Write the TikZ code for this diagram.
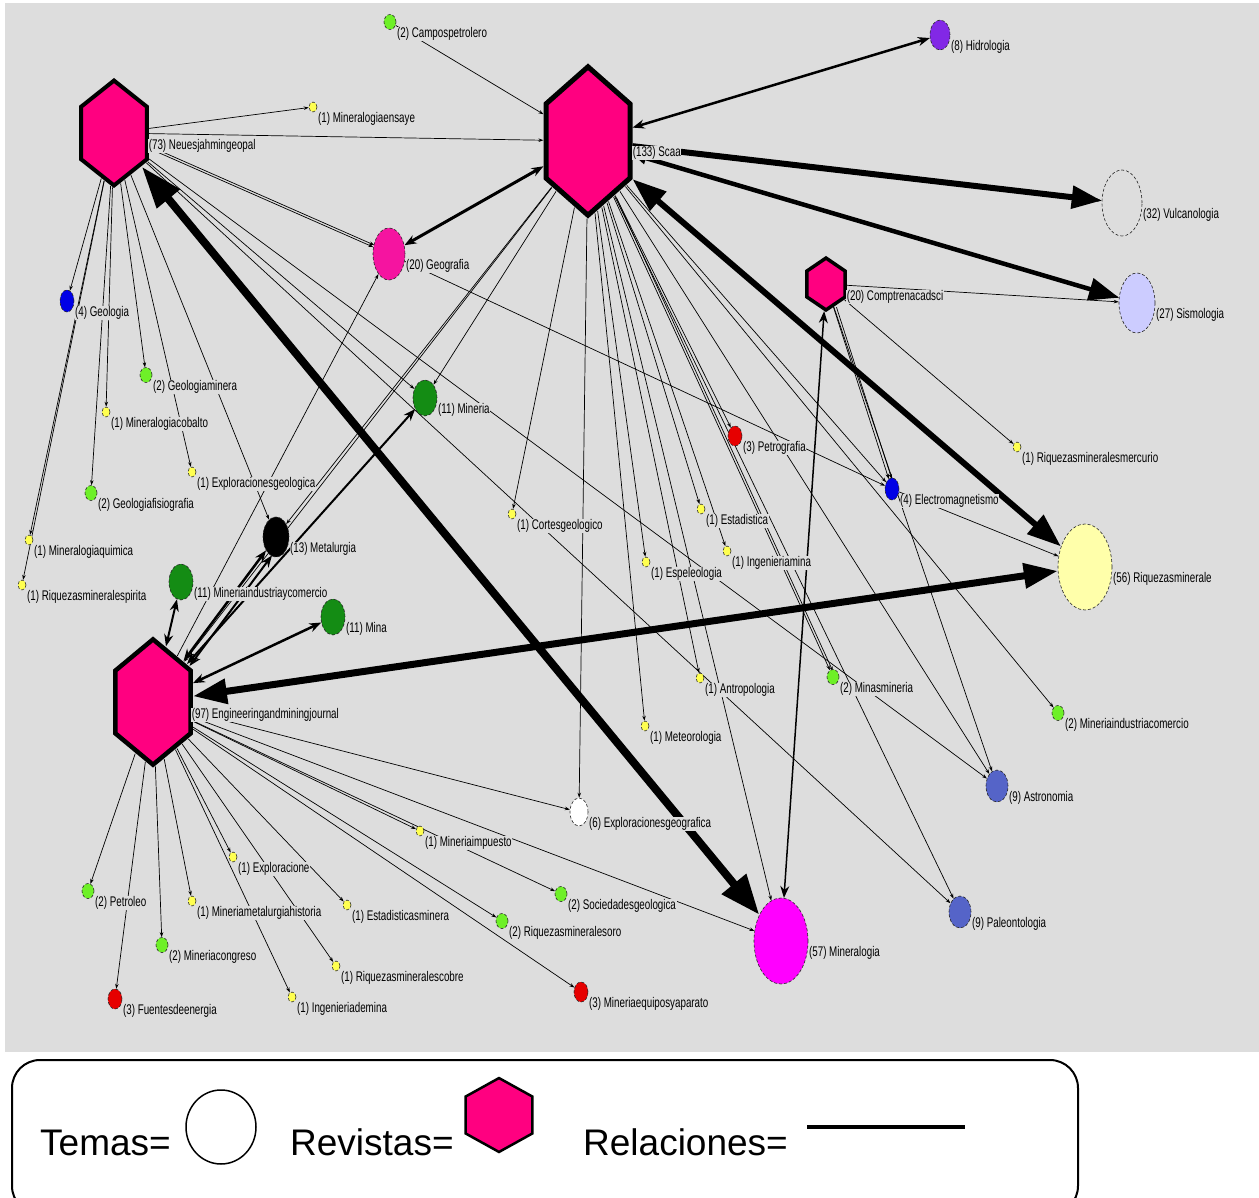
\documentclass[tikz,border=0pt]{standalone}
\usepackage{fontspec}
\setmainfont{Liberation Sans}
\newfontfamily\labfont[FakeStretch=0.7]{Liberation Sans}
\usetikzlibrary{shapes.geometric,arrows.meta,backgrounds}
\definecolor{fondo}{RGB}{221,221,221}
\definecolor{rosa}{RGB}{255,0,128}
\definecolor{rosageo}{RGB}{245,20,160}
\definecolor{amarillo}{RGB}{255,255,80}
\definecolor{verdecl}{RGB}{110,240,40}
\definecolor{verdeos}{RGB}{20,140,20}
\definecolor{azul}{RGB}{0,0,230}
\definecolor{morado}{RGB}{130,40,230}
\definecolor{lavanda}{RGB}{204,204,255}
\definecolor{crema}{RGB}{255,255,170}
\definecolor{fucsia}{RGB}{255,0,255}
\definecolor{acero}{RGB}{85,100,200}
\definecolor{rojo}{RGB}{230,0,0}
\begin{document}
\begin{tikzpicture}[x=1pt,y=-1pt,
	lab/.style={font=\labfont\fontsize{14}{14}\selectfont,fill=fondo,inner sep=0.6pt},
	every label/.style={lab,yshift=-12pt},
	tema/.style={ellipse,draw=black!85,densely dashed,line width=0.6pt,inner sep=0pt},
	t1/.style={tema,fill=amarillo,minimum width=8pt,minimum height=10pt},
	t2/.style={tema,fill=verdecl,minimum width=12pt,minimum height=15pt},
	t3/.style={tema,fill=rojo,minimum width=14pt,minimum height=20pt},
	t4/.style={tema,fill=azul,minimum width=14pt,minimum height=22pt},
	t9/.style={tema,fill=acero,minimum width=22pt,minimum height=32pt},
	t11/.style={tema,fill=verdeos,minimum width=24pt,minimum height=36pt},
	revista/.style={regular polygon,regular polygon sides=6,shape border rotate=30,draw=black,fill=rosa,inner sep=0pt,transform shape},
	relacion/.style={line width=0.7pt,-{Stealth[length=5pt,width=3.5pt]}},
	relmedia/.style={{Stealth[length=12pt,width=9pt]}-{Stealth[length=12pt,width=9pt]}},
	relfuerte/.style={{Triangle[length=34pt,width=24pt]}-{Triangle[length=34pt,width=24pt]}}]
		\useasboundingbox (0,0) rectangle (1259,1198);

		% Revistas
		\begin{scope}[shift={(114,133)},yscale=1.38]
			\node[revista,minimum size=76pt,line width=4pt] (neues) at (0,0) {};
		\end{scope}
		\begin{scope}[shift={(588,141)},yscale=1.53]
			\node[revista,minimum size=97pt,line width=5pt] (scaa) at (0,0) {};
		\end{scope}
		\begin{scope}[shift={(153,702)},yscale=1.44]
			\node[revista,minimum size=87pt,line width=4.5pt] (eng) at (0,0) {};
		\end{scope}
		\begin{scope}[shift={(826,284)},yscale=1.18]
			\node[revista,minimum size=44pt,line width=3.5pt] (comp) at (0,0) {};
		\end{scope}
		\node[lab,anchor=west] (neuesLab) at (148,146) {(73) Neuesjahmingeopal};
		\node[lab,anchor=west] (scaaLab) at (632,153) {(133) Scaa};
		\node[lab,anchor=west] (engLab) at (191,715) {(97) Engineeringandminingjournal};
		\node[lab,anchor=west] (compLab) at (846,297) {(20) Comptrenacadsci};

		% Temas
		\node[t2,label={east:(2) Campospetrolero}] (camp) at (390,22) {};
		\node[t1,label={east:(1) Mineralogiaensaye}] (minens) at (313,107) {};
		\node[tema,fill=morado,minimum width=20pt,minimum height=30pt,label={east:(8) Hidrologia}] (hidro) at (940,35) {};
		\node[tema,fill=fondo,minimum width=40pt,minimum height=66pt,label={east:(32) Vulcanologia}] (vulc) at (1122,203) {};
		\node[tema,fill=lavanda,minimum width=36pt,minimum height=60pt,label={east:(27) Sismologia}] (sismo) at (1137,303) {};
		\node[tema,fill=rosageo,minimum width=32pt,minimum height=52pt,label={east:(20) Geografia}] (geog) at (389,254) {};
		\node[t4,label={east:(4) Geologia}] (geol) at (67,301) {};
		\node[t2,label={east:(2) Geologiaminera}] (geomin) at (146,375) {};
		\node[t1,label={east:(1) Mineralogiacobalto}] (mincob) at (106,412) {};
		\node[t1,label={east:(1) Exploracionesgeologica}] (expgeol) at (192,472) {};
		\node[t2,label={east:(2) Geologiafisiografia}] (geofis) at (91,493) {};
		\node[t1,label={east:(1) Mineralogiaquimica}] (minquim) at (29,540) {};
		\node[t1,label={east:(1) Riquezasmineralespirita}] (riqesp) at (22,585) {};
		\node[t11,label={east:(11) Mineria}] (mineria) at (425,398) {};
		\node[tema,fill=black,minimum width=26pt,minimum height=40pt,label={east:(13) Metalurgia}] (metal) at (276,537) {};
		\node[t11,label={east:(11) Mineriaindustriaycomercio}] (minind) at (181,582) {};
		\node[t11,label={east:(11) Mina}] (mina) at (333,617) {};
		\node[t1,label={east:(1) Cortesgeologico}] (cortes) at (512,514) {};
		\node[t3,label={east:(3) Petrografia}] (petro) at (735,436) {};
		\node[t1,label={east:(1) Estadistica}] (estad) at (701,509) {};
		\node[t1,label={east:(1) Ingenieriamina}] (ingmina) at (727,551) {};
		\node[t1,label={east:(1) Espeleologia}] (espel) at (646,562) {};
		\node[t4,label={east:(4) Electromagnetismo}] (electro) at (892,489) {};
		\node[t1,label={east:(1) Riquezasmineralesmercurio}] (riqmerc) at (1017,447) {};
		\node[tema,fill=crema,minimum width=54pt,minimum height=86pt,label={east:(56) Riquezasminerale}] (riq) at (1085,567) {};
		\node[t1,label={east:(1) Antropologia}] (antro) at (700,678) {};
		\node[t1,label={east:(1) Meteorologia}] (meteo) at (645,726) {};
		\node[t2,label={east:(2) Minasmineria}] (minas) at (833,677) {};
		\node[t2,label={east:(2) Mineriaindustriacomercio}] (minindc) at (1058,713) {};
		\node[t9,label={east:(9) Astronomia}] (astro) at (997,786) {};
		\node[t9,label={east:(9) Paleontologia}] (paleo) at (960,912) {};
		\node[tema,fill=white,minimum width=18pt,minimum height=28pt,label={east:(6) Exploracionesgeografica}] (expgeog) at (579,812) {};
		\node[t1,label={east:(1) Mineriaimpuesto}] (minimp) at (420,831) {};
		\node[t2,label={east:(2) Sociedadesgeologica}] (socied) at (561,894) {};
		\node[t2,label={east:(2) Riquezasmineralesoro}] (riqoro) at (502,921) {};
		\node[t3,label={east:(3) Mineriaequiposyaparato}] (mineq) at (581,992) {};
		\node[tema,fill=fucsia,minimum width=54pt,minimum height=86pt,label={east:(57) Mineralogia}] (minlog) at (781,941) {};
		\node[t2,label={east:(2) Petroleo}] (petrol) at (88,891) {};
		\node[t3,label={east:(3) Fuentesdeenergia}] (fuentes) at (115,999) {};
		\node[t2,label={east:(2) Mineriacongreso}] (mincong) at (162,945) {};
		\node[t1,label={east:(1) Mineriametalurgiahistoria}] (minmet) at (192,901) {};
		\node[t1,label={east:(1) Exploracione}] (explo) at (233,857) {};
		\node[t1,label={east:(1) Estadisticasminera}] (estmin) at (347,905) {};
		\node[t1,label={east:(1) Riquezasmineralescobre}] (riqcob) at (336,966) {};
		\node[t1,label={east:(1) Ingenieriademina}] (ingdem) at (292,997) {};

		% Relaciones
		\begin{pgfonlayer}{background}
			\fill[white] (0,0) rectangle (1259,1198);
			\fill[fondo] (5,3) rectangle (1259,1052);
			\foreach \t in {minens,scaa,geol,geomin,mincob,geofis,expgeol,minquim,riqesp,metal,mineria,astro,paleo}
				\draw[relacion] (neues) -- (\t);
			\draw[relacion] (neues) -- (geog);
			\draw[relacion,transform canvas={shift={(1pt,2pt)}}] (neues) -- (geog);
			\foreach \t in {cortes,expgeog,espel,meteo,antro,estad,ingmina,petro,minas,minlog,astro,paleo,minindc,electro,metal,eng,mineria,vulc,sismo}
				\draw[relacion] (scaa) -- (\t);
			\draw[relacion,transform canvas={shift={(3pt,-1pt)}}] (scaa) -- (minas);
			\draw[relacion] (camp) -- (scaa);
			\foreach \t in {sismo,riqmerc,electro,astro}
				\draw[relacion] (comp) -- (\t);
			\draw[relacion,transform canvas={shift={(3pt,0pt)}}] (comp) -- (electro);
			\draw[relacion] (geog) -- (electro);
			\draw[relacion] (electro) -- (riq);
			\draw[relacion] (eng) -- (geog);
			\foreach \t in {petrol,fuentes,mincong,minmet,explo,ingdem,riqcob,estmin,minimp,riqoro,mineq,socied,minlog,expgeog}
				\draw[relacion] (eng) -- (\t);
			\draw[relmedia,line width=2.5pt] (scaa) -- (hidro);
			\draw[relmedia,line width=3pt] (scaa) -- (geog);
			\draw[relmedia,line width=1.5pt] (comp) -- (minlog);
			\draw[relmedia,line width=2.5pt] (eng) -- (mina);
			\draw[relmedia,line width=2pt] (eng) -- (minind);
			\draw[relmedia,line width=2.5pt] (eng) -- (metal);
			\draw[relmedia,line width=2pt,transform canvas={shift={(6pt,-5pt)}}] (eng) -- (metal);
			\draw[relmedia,line width=2pt] (eng) -- (mineria);
			\draw[relfuerte,line width=8pt,{Triangle[length=42pt,width=28pt]}-{Triangle[length=40pt,width=30pt]}] (neues) -- (minlog);
			\draw[relfuerte,line width=6pt] (scaa) -- (riq);
			\draw[relfuerte,line width=7pt] (eng) -- (riq);
			\draw[line width=6pt,-{Triangle[length=30pt,width=22pt]}] (scaa) -- (vulc);
			\draw[line width=4.5pt,{Triangle[length=14pt,width=12pt]}-{Triangle[length=30pt,width=22pt]}] (scaa) -- (sismo);
		\end{pgfonlayer}

		% Leyenda
		\draw[line width=2pt,rounded corners=28pt] (12,1060) rectangle (1078,1214);
		\node[anchor=base west,inner sep=0pt,font=\fontsize{37}{37}\selectfont] (temas) at (40,1155) {Temas=};
		\node[ellipse,draw,line width=1.5pt,fill=white,minimum width=70pt,minimum height=74pt,inner sep=0pt] (leyTema) at (221,1127) {};
		\node[anchor=base west,inner sep=0pt,font=\fontsize{37}{37}\selectfont] (revistas) at (290,1155) {Revistas=};
		\begin{scope}[shift={(499,1115)},yscale=0.96]
			\node[revista,minimum size=77pt,line width=2.5pt] (leyRevista) at (0,0) {};
		\end{scope}
		\node[anchor=base west,inner sep=0pt,font=\fontsize{37}{37}\selectfont] (relaciones) at (583,1155) {Relaciones=};
		\coordinate (relA) at (807,1127);
		\coordinate (relB) at (965,1127);
		\draw[line width=4pt] (relA) -- (relB);
\end{tikzpicture}
\end{document}
